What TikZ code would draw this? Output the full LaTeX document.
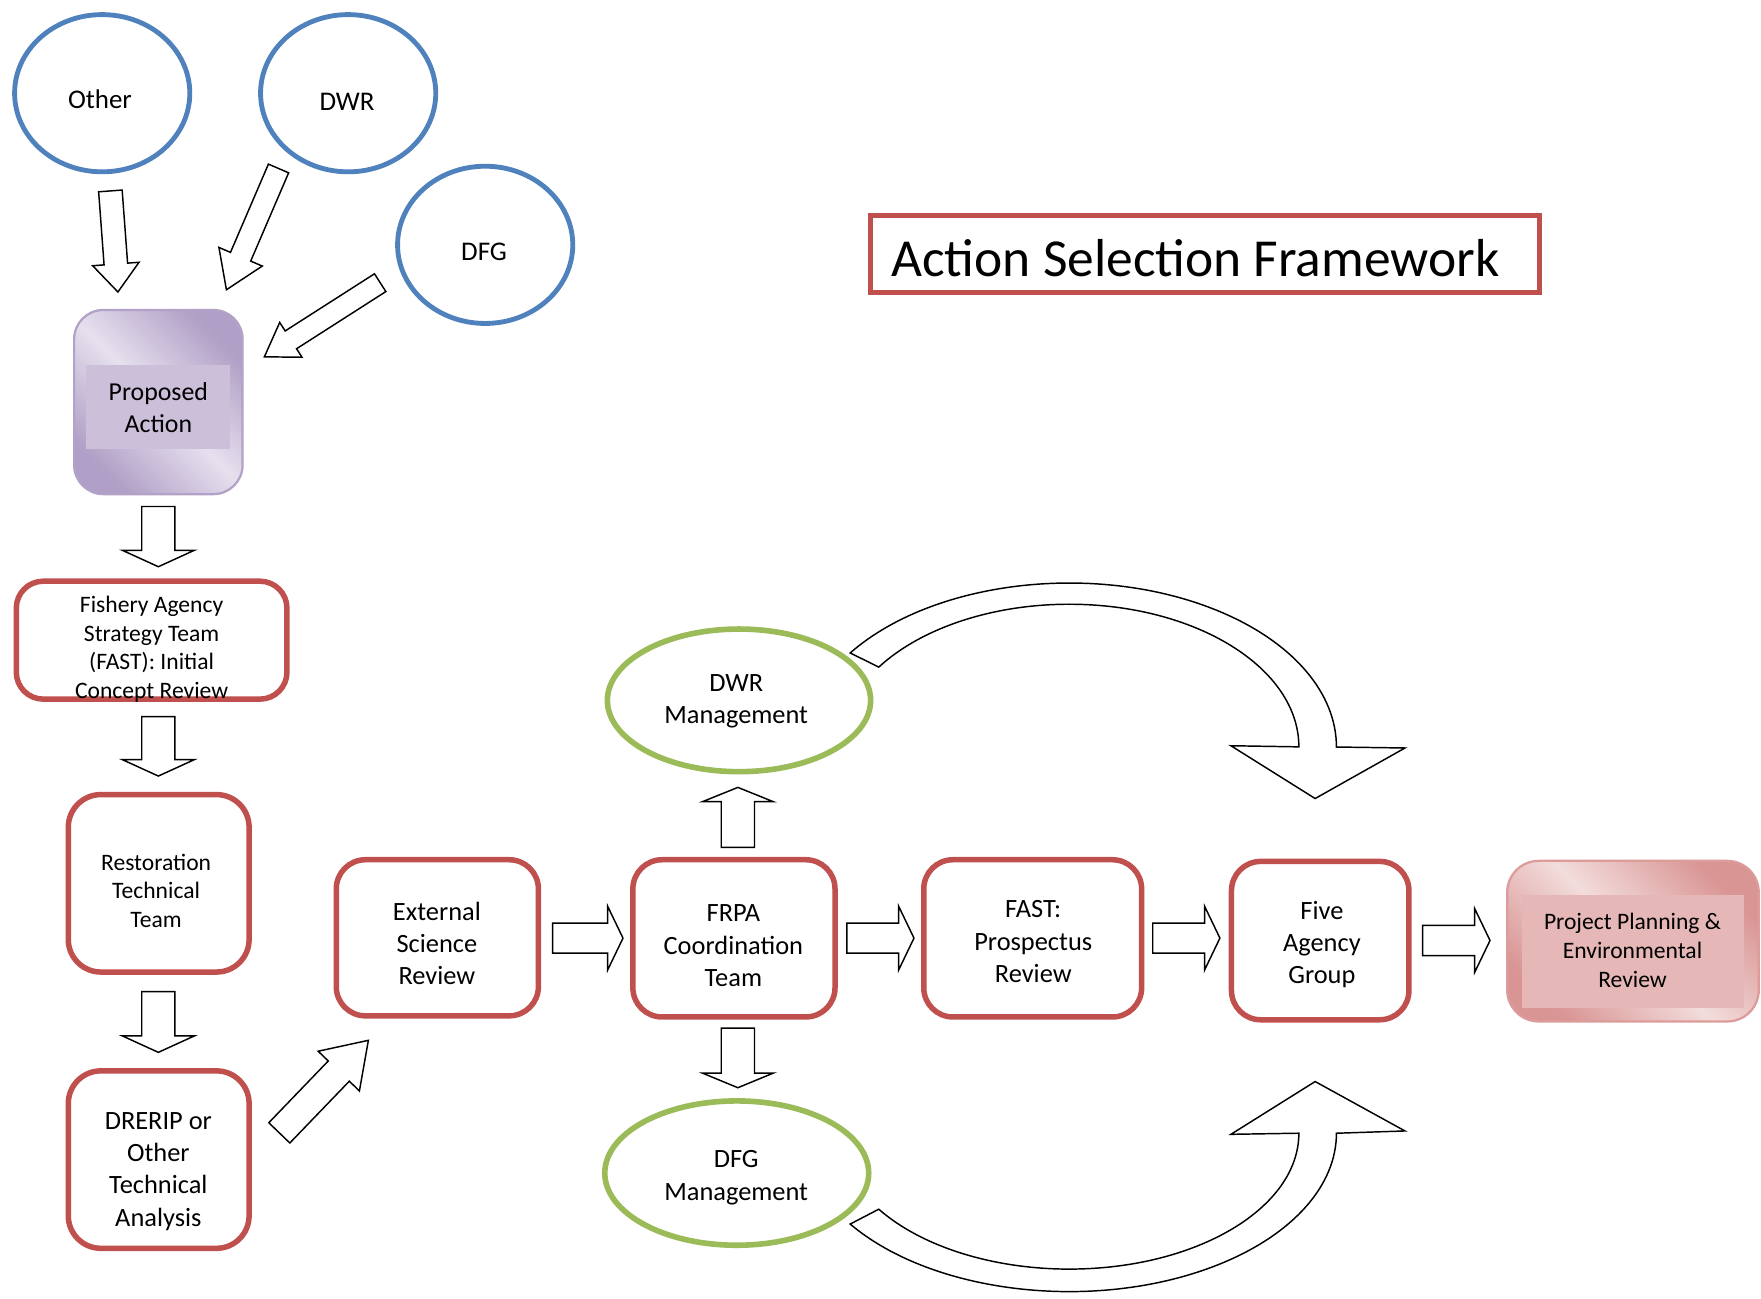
\documentclass[tikz,border=0pt]{standalone}
\usepackage{fontspec}
\setmainfont{Carlito}
\usetikzlibrary{shapes.geometric,calc}
\definecolor{cblue}{HTML}{4F81BD}
\definecolor{cred}{HTML}{C0504D}
\definecolor{cgreen}{HTML}{9BBB59}
\definecolor{plight}{HTML}{E6E0EE}
\definecolor{pdark}{HTML}{B09FC6}
\definecolor{pinner}{HTML}{CBBFD9}
\definecolor{pborder}{HTML}{B3A2C7}
\definecolor{rlight}{HTML}{F2DDDC}
\definecolor{rdark}{HTML}{D99594}
\definecolor{rinner}{HTML}{E5B8B7}
\definecolor{rborder}{HTML}{DB9C9A}
\newcommand\blockarr[5]{%
  \path ($(#2)!#5pt!(#1)$) coordinate (bn);
  \draw[barrow] ($(#1)!#3pt!90:(#2)$) -- ($(bn)!#3pt!90:(#2)$) -- ($(bn)!#4pt!90:(#2)$) -- (#2) -- ($(bn)!#4pt!-90:(#2)$) -- ($(bn)!#3pt!-90:(#2)$) -- ($(#1)!#3pt!-90:(#2)$) -- cycle;}
\tikzset{
  barrow/.style={draw=black, fill=white, line width=1.3, line join=miter},
  bluecirc/.style={ellipse, draw=cblue, line width=4.3, fill=white, minimum width=156, minimum height=140, inner sep=0},
  greenell/.style={ellipse, draw=cgreen, line width=5, fill=white, inner sep=0},
  redbox/.style={rectangle, rounded corners=26, draw=cred, line width=4.9, fill=white, inner sep=0},
  txtA/.style={align=center, inner sep=0, font=\fontsize{23.5}{28.8}\selectfont},
  txtB/.style={align=center, inner sep=0, font=\fontsize{21}{25.5}\selectfont},
  txtC/.style={align=center, inner sep=0, font=\fontsize{24}{29}\selectfont},
  pabox/.style={rectangle, rounded corners=26, draw=pborder, line width=2, top color=pdark, bottom color=pdark, middle color=plight, shading angle=-45, inner sep=0},
  ppbox/.style={rectangle, rounded corners=28, draw=rborder, line width=2, top color=rdark, bottom color=rdark, middle color=rlight, shading angle=-45, inner sep=0},
  innerrect/.style={rectangle, draw=none, inner sep=0}
}
\begin{document}
\begin{tikzpicture}[x=1pt, y=1pt, yscale=-1]
\useasboundingbox (0,0) rectangle (1568,1156);
% curved arrows
\draw[barrow] (757,581.4) arc[start angle=215, end angle=360, x radius=238, y radius=146] -- (1251,666) -- (1171,711) -- (1096,664) -- (1156.5,665) arc[start angle=360, end angle=214, x radius=204.5, y radius=127] -- cycle;
\draw[barrow] (757,1089.9) arc[start angle=145, end angle=0, x radius=238, y radius=141] -- (1251,1007) -- (1171,963) -- (1096,1010) -- (1156.5,1009) arc[start angle=0, end angle=146, x radius=204.5, y radius=121] -- cycle;
% title
\node[draw=cred, line width=4.5, minimum width=595.5, minimum height=68.5, inner sep=0] (titlebox) at (1073,226.5) {};
\node[anchor=base west, inner sep=0, font=\fontsize{47.6}{56}\selectfont] (title) at (793.5,246) {Action Selection Framework};
% source ellipses
\node[bluecirc] (other) at (91,83) {};
\node[bluecirc] (dwr) at (310,83) {};
\node[bluecirc] (dfg) at (432,218) {};
\node[txtC] (othert) at (89,88) {Other};
\node[txtC] (dwrt) at (309,91) {DWR};
\node[txtC] (dfgt) at (431,224) {DFG};
% proposed action
\node[pabox, minimum width=150, minimum height=164] (pa) at (141,358) {};
\node[innerrect, fill=pinner, minimum width=128, minimum height=75] (pain) at (141,362.5) {};
\node[align=center, inner sep=0, font=\fontsize{23}{28}\selectfont] (pat) at (141,363) {Proposed\\Action};
% left column
\node[redbox, rounded corners=24, minimum width=241, minimum height=105] (fast) at (135,570) {};
\node[txtB] (fastt) at (135,578) {Fishery Agency\\Strategy Team\\(FAST): Initial\\Concept Review};
\node[redbox, rounded corners=29, minimum width=161, minimum height=158] (rtt) at (141.3,786.5) {};
\node[txtB] (rttt) at (139,793) {Restoration\\Technical\\Team};
\node[redbox, rounded corners=29, minimum width=161, minimum height=158] (drerip) at (141.3,1032.5) {};
\node[txtA] (dreript) at (141,1043) {DRERIP or\\Other\\Technical\\Analysis};
% middle row
\node[redbox, minimum width=180, minimum height=139] (esr) at (389.4,835) {};
\node[txtA] (esrt) at (389,840) {External\\Science\\Review};
\node[redbox, minimum width=180, minimum height=140] (frpa) at (653.5,835.5) {};
\node[txtA] (frpat) at (653,842) {FRPA\\Coordination\\Team};
\node[redbox, minimum width=194, minimum height=140] (fastp) at (919.5,835.5) {};
\node[txtA] (fastpt) at (920,838.5) {FAST:\\Prospectus\\Review};
\node[redbox, minimum width=158, minimum height=141] (fag) at (1175.5,837.5) {};
\node[txtA] (fagt) at (1177,841) {Five\\Agency\\Group};
\node[ppbox, minimum width=224, minimum height=143] (pper) at (1454,838) {};
\node[innerrect, fill=rinner, minimum width=197.4, minimum height=100.5] (ppin) at (1454,847) {};
\node[txtB, font=\fontsize{21}{26}\selectfont] (ppert) at (1453.6,846) {Project Planning \&\\Environmental\\Review};
% management ellipses
\node[greenell, minimum width=234.4, minimum height=127] (dwrm) at (658,623.6) {};
\node[txtA] (dwrmt) at (655.5,624.5) {DWR\\Management};
\node[greenell, minimum width=235, minimum height=128.5] (dfgm) at (656,1044.5) {};
\node[txtA] (dfgmt) at (655.5,1048.5) {DFG\\Management};
% block arrows
\coordinate (a1s) at (98.3,170); \coordinate (a1e) at (105,260);
\blockarr{a1s}{a1e}{10.5}{20.7}{25}
\coordinate (a2s) at (248,150); \coordinate (a2e) at (201.6,258);
\blockarr{a2s}{a2e}{9.8}{21}{32}
\coordinate (a3s) at (338.5,251.7); \coordinate (a3e) at (235.4,317.7);
\blockarr{a3s}{a3e}{9.4}{18.4}{28}
\coordinate (a4s) at (141,451); \coordinate (a4e) at (141,504.6);
\blockarr{a4s}{a4e}{14.8}{32}{14.6}
\coordinate (a5s) at (141,638); \coordinate (a5e) at (141,691);
\blockarr{a5s}{a5e}{14.8}{32}{14.6}
\coordinate (a6s) at (141,883); \coordinate (a6e) at (141,937);
\blockarr{a6s}{a6e}{14.8}{32}{14.6}
\coordinate (a7s) at (248.7,1008.7); \coordinate (a7e) at (328,926.3);
\blockarr{a7s}{a7e}{13}{25.5}{38}
\coordinate (a8s) at (657,754.5); \coordinate (a8e) at (657,701.1);
\blockarr{a8s}{a8e}{14.8}{31.5}{12.7}
\coordinate (a9s) at (657,915.5); \coordinate (a9e) at (657,968.5);
\blockarr{a9s}{a9e}{14.8}{31.5}{13}
\coordinate (a10s) at (492,835.3); \coordinate (a10e) at (554.7,835.3);
\blockarr{a10s}{a10e}{13.4}{28.5}{13.7}
\coordinate (a11s) at (754,835.3); \coordinate (a11e) at (813.8,835.3);
\blockarr{a11s}{a11e}{13.4}{28.5}{13.7}
\coordinate (a12s) at (1026.4,835.3); \coordinate (a12e) at (1086.2,835.3);
\blockarr{a12s}{a12e}{13.4}{28.5}{13.7}
\coordinate (a13s) at (1266.7,837.4); \coordinate (a13e) at (1326.7,837.4);
\blockarr{a13s}{a13e}{13.4}{28.5}{13.7}
\end{tikzpicture}
\end{document}
